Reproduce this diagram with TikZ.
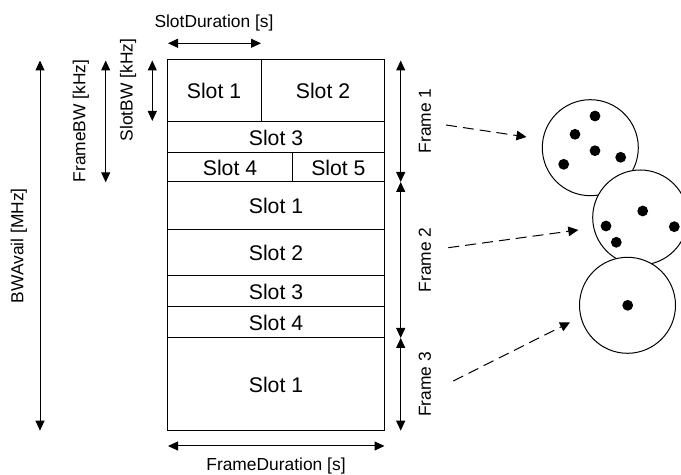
\documentclass[tikz,border=0pt]{standalone}
\usepackage{fontspec}
\setmainfont{Liberation Sans}
\usetikzlibrary{arrows.meta}
\tikzstyle{lbl}=[font=\fontsize{10.6}{12}\selectfont, inner sep=0pt]
\tikzstyle{dimlbl}=[font=\fontsize{8.7}{10}\selectfont, inner sep=0pt]
\tikzstyle{dim}=[{Triangle[length=5pt,width=4.5pt]}-{Triangle[length=5pt,width=4.5pt]}, line width=0.5pt]
\tikzstyle{map}=[-{Triangle[length=5pt,width=4.8pt]}, dash pattern=on 5.5pt off 3pt, line width=0.5pt]
\tikzstyle{cell}=[circle, draw, fill=white, line width=0.5pt, minimum size=48pt, inner sep=0pt]
\tikzstyle{user}=[circle, fill=black, minimum size=5.4pt, inner sep=0pt]

\begin{document}
\begin{tikzpicture}[x=0.5pt, y=-0.5pt]
	\useasboundingbox (0,0) rectangle (681,475);
	% slot grid
	 \draw [line width=0.5pt] (167.5,60) rectangle (384.5,431);
	 \draw [line width=0.5pt] (167.5,122) -- (384.5,122);
	 \draw [line width=0.5pt] (167.5,153) -- (384.5,153);
	 \draw [line width=0.5pt] (167.5,182) -- (384.5,182);
	 \draw [line width=0.5pt] (167.5,230) -- (384.5,230);
	 \draw [line width=0.5pt] (167.5,276) -- (384.5,276);
	 \draw [line width=0.5pt] (167.5,307) -- (384.5,307);
	 \draw [line width=0.5pt] (167.5,338) -- (384.5,338);
	 \draw [line width=0.5pt] (261.3,60) -- (261.3,122);
	 \draw [line width=0.5pt] (292.3,153) -- (292.3,182);

	% slot labels
	 \node [lbl] (f1s1) at (214,91) {Slot 1};
	 \node [lbl] (f1s2) at (323,91) {Slot 2};
	 \node [lbl] (f1s3) at (276,137.5) {Slot 3};
	 \node [lbl] (f1s4) at (230,167.5) {Slot 4};
	 \node [lbl] (f1s5) at (338.4,167.5) {Slot 5};
	 \node [lbl] (f2s1) at (276,206) {Slot 1};
	 \node [lbl] (f2s2) at (276,253) {Slot 2};
	 \node [lbl] (f2s3) at (276,291.5) {Slot 3};
	 \node [lbl] (f2s4) at (276,322.5) {Slot 4};
	 \node [lbl] (f3s1) at (276,384.5) {Slot 1};

	% dimension labels
	 \node [dimlbl] (sdur) at (214,22.7) {SlotDuration [s]};
	 \node [dimlbl] (fdur) at (276,466) {FrameDuration [s]};
	 \node [dimlbl, rotate=90] (sbw) at (128,90) {SlotBW [kHz]};
	 \node [dimlbl, rotate=90] (fbw) at (81,121) {FrameBW [kHz]};
	 \node [dimlbl, rotate=90] (bwa) at (19,245.7) {BWAvail [MHz]};
	 \node [dimlbl, rotate=90] (fr1) at (425,121) {Frame 1};
	 \node [dimlbl, rotate=90] (fr2) at (425,260) {Frame 2};
	 \node [dimlbl, rotate=90] (fr3) at (425,384.5) {Frame 3};

	% arrow ends
	 \coordinate (sd1) at (168,43.3);   \coordinate (sd2) at (261,43.3);
	 \coordinate (fd1) at (168,446);    \coordinate (fd2) at (384.5,446);
	 \coordinate (sb1) at (152.3,60.5); \coordinate (sb2) at (152.3,121);
	 \coordinate (fb1) at (105.7,60.5); \coordinate (fb2) at (105.7,182.3);
	 \coordinate (ba1) at (40,60.5);    \coordinate (ba2) at (40,430.7);
	 \coordinate (r1) at (400.7,60.5);  \coordinate (r2) at (400.7,182);
	 \coordinate (r3) at (400.7,338);   \coordinate (r4) at (400.7,430.7);

	% arrows
	 \draw [dim] (sd1) -- (sd2);
	 \draw [dim] (fd1) -- (fd2);
	 \draw [dim] (sb1) -- (sb2);
	 \draw [dim] (fb1) -- (fb2);
	 \draw [dim] (ba1) -- (ba2);
	 \draw [dim] (r1) -- (r2);
	 \draw [dim] (r2) -- (r3);
	 \draw [dim] (r3) -- (r4);

	% cells and users
	 \node [cell] (c1) at (590.3,147.7) {};
	 \node [user] (u11) at (595,116) {};
	 \node [user] (u12) at (575,134.3) {};
	 \node [user] (u13) at (595,150.7) {};
	 \node [user] (u14) at (620.7,157.3) {};
	 \node [user] (u15) at (563.7,164.3) {};
	 \node [cell, minimum size=47.5pt] (c2) at (640.2,217.5) {};
	 \node [user] (u21) at (642.7,211) {};
	 \node [user] (u22) at (606,226) {};
	 \node [user] (u23) at (616.3,242.3) {};
	 \node [user] (u24) at (674.3,226.7) {};
	 \node [cell] (c3) at (627.5,305.3) {};
	 \node [user] (u31) at (627.7,305.3) {};

	% mapping
	 \coordinate (m1) at (446,125);   \coordinate (m2) at (448.3,247.7);
	 \coordinate (m3) at (453.3,381);
	 \draw [map] (m1) -- (526.5,137);
	 \draw [map] (m2) -- (578.3,230);
	 \draw [map] (m3) -- (570,322.3);
\end{tikzpicture}
\end{document}
